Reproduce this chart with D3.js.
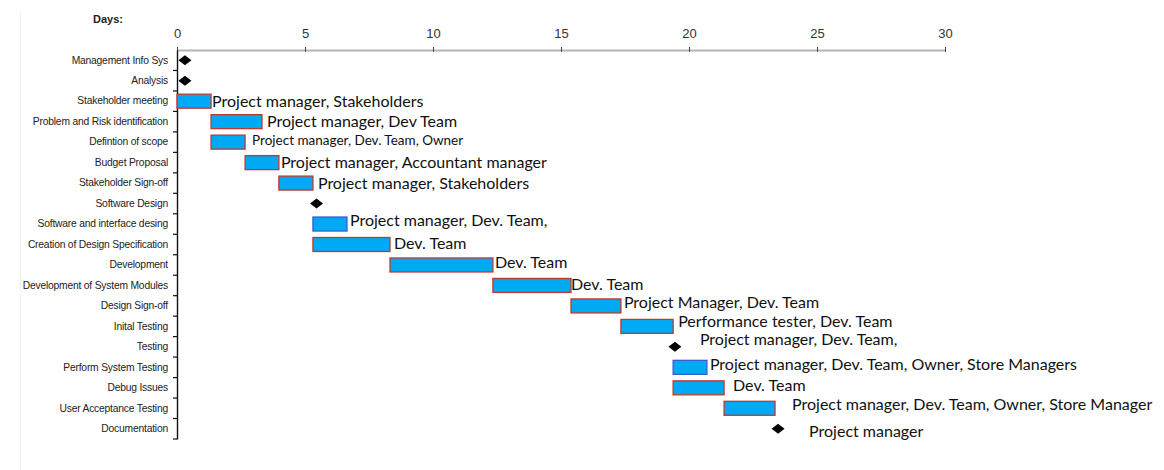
<!DOCTYPE html>
<html>
<head>
<meta charset="utf-8">
<script src="https://cdn.jsdelivr.net/npm/d3@7"></script>
<style>
  html, body { margin: 0; padding: 0; background: #fff; }
  svg { display: block; }
</style>
</head>
<body>
<svg id="chart" width="1164" height="470"></svg>
<script>
// ---- data ----
const tasks = [
  "Management Info Sys", "Analysis", "Stakeholder meeting", "Problem and Risk identification",
  "Defintion of scope", "Budget Proposal", "Stakeholder Sign-off", "Software Design",
  "Software and interface desing", "Creation of Design Specification", "Development",
  "Development of System Modules", "Design Sign-off", "Inital Testing", "Testing",
  "Perform System Testing", "Debug Issues", "User Acceptance Testing", "Documentation"
];
const taskType = ["milestone","milestone","bar","bar","bar","bar","bar","milestone","bar","bar","bar",
                  "bar","bar","bar","milestone","bar","bar","bar","milestone"];
const startDay = [0.31, 0.31, 0, 1.33, 1.33, 2.66, 3.98, 5.45, 5.31, 5.31, 8.32,
                  12.34, 15.39, 17.34, 19.45, 19.38, 19.38, 21.37, 23.48];
const endDay   = [0.31, 0.31, 1.33, 3.32, 2.66, 3.98, 5.31, 5.45, 6.64, 8.32, 12.34,
                  15.39, 17.34, 19.38, 19.45, 20.7, 21.37, 23.36, 23.48];
const resources = ["", "", "Project manager, Stakeholders", "Project manager, Dev Team",
  "Project manager, Dev. Team, Owner", "Project manager, Accountant manager",
  "Project manager, Stakeholders", "", "Project manager, Dev. Team,", "Dev. Team", "Dev. Team",
  "Dev. Team", "Project Manager, Dev. Team", "Performance tester, Dev. Team",
  "Project manager, Dev. Team,", "Project manager, Dev. Team, Owner, Store Managers", "Dev. Team",
  "Project manager, Dev. Team, Owner, Store Manager", "Project manager"];
const tickValues = [0, 5, 10, 15, 20, 25, 30];

// ---- annotation placement (pixels, relative to the end of each mark) ----
const labelDx = [0, 0, 1, 5, 7, 2, 5, 0, 3, 4, 2, 0, 3, 5, 25, 3, 9, 17, 31];
const labelDy = [0, 0, -1, -1, -2, -1, -1, 0, -5, -2, -3, -2, -4, -6, -8, -4, -3, -5, 2];
const labelSize = [16, 16, 16, 16, 13.5, 16, 16, 16, 16, 16, 16, 16, 16, 16, 16, 16, 16, 16, 16];
const outline = ["", "", "#c0392b", "#c0392b", "#c0392b", "#c0392b", "#c0392b", "", "#3a5fc8", "#c0392b",
                 "#c0392b", "#c0392b", "#c0392b", "#c0392b", "", "#3a5fc8", "#c0392b", "#c0392b", ""];

const svg = d3.select("#chart");
const x = d3.scaleLinear().domain([0, 30]).range([177, 945]);
const y = d3.scaleBand().domain(tasks).range([50, 439]).padding(0);
const bw = y.bandwidth();

// faint page edge
svg.append("line").attr("x1", 20.5).attr("x2", 20.5).attr("y1", 12).attr("y2", 470)
  .attr("stroke", "#f3f3f3").attr("stroke-width", 1);

// top axis
const gx = svg.append("g").attr("transform", "translate(0,50)")
  .call(d3.axisTop(x).tickValues(tickValues).tickSize(0).tickPadding(12).tickFormat(d3.format("d")));
gx.select(".domain").attr("stroke", "#b4b4b4").attr("stroke-width", 2.2);
gx.selectAll(".tick text").attr("font-family", "'Liberation Sans Narrow', 'Liberation Sans', Arial, sans-serif")
  .attr("font-size", 13).attr("fill", "#333");
gx.selectAll(".tick").append("line").attr("y1", -3).attr("y2", 2).attr("stroke", "#444").attr("stroke-width", 1);

svg.append("text").attr("x", 93).attr("y", 23).text("Days:")
  .attr("font-family", "'Liberation Sans', Arial, sans-serif").attr("font-size", 11)
  .attr("font-weight", "bold").attr("fill", "#222");

// left axis
const gy = svg.append("g").attr("transform", "translate(177,0)")
  .call(d3.axisLeft(y).tickSize(0).tickPadding(9));
gy.select(".domain").attr("stroke", "#111").attr("stroke-width", 1.4);
gy.selectAll(".tick text").attr("font-family", "'Liberation Sans', Arial, sans-serif")
  .attr("font-size", 10.3).attr("fill", "#222").attr("letter-spacing", "-0.2");
// boundary ticks between rows
gy.selectAll(".bnd").data(tasks.slice(1).concat(["__end"])).enter().append("line")
  .attr("x1", -4).attr("x2", 0)
  .attr("y1", (d, i) => y(tasks[0]) + bw * (i + 1)).attr("y2", (d, i) => y(tasks[0]) + bw * (i + 1))
  .attr("stroke", "#111").attr("stroke-width", 1.2);

const rows = tasks.map((t, i) => ({ t, i, type: taskType[i], s: startDay[i], e: endDay[i], label: resources[i] }));

// bars
svg.selectAll("rect.bar").data(rows.filter(d => d.type === "bar")).enter().append("rect")
  .attr("class", "bar")
  .attr("x", d => x(d.s)).attr("width", d => x(d.e) - x(d.s))
  .attr("y", d => y(d.t) + bw / 2 - 7).attr("height", 14)
  .attr("fill", "#00a9f4").attr("stroke", d => outline[d.i]).attr("stroke-width", 1.3);

// milestones
svg.selectAll("path.ms").data(rows.filter(d => d.type === "milestone")).enter().append("path")
  .attr("class", "ms")
  .attr("transform", d => `translate(${x(d.s)},${y(d.t) + bw / 2})`)
  .attr("d", "M-6.5,0L0,-5L6.5,0L0,5Z").attr("fill", "#000");

// resource labels
svg.selectAll("text.lbl").data(rows.filter(d => d.label)).enter().append("text")
  .attr("class", "lbl")
  .attr("x", d => x(d.e) + labelDx[d.i]).attr("y", d => y(d.t) + bw / 2 + labelDy[d.i])
  .attr("dominant-baseline", "central")
  .attr("font-family", "Lato, 'Open Sans', sans-serif").attr("font-size", d => labelSize[d.i])
  .attr("fill", "#111").text(d => d.label);
</script>
</body>
</html>
